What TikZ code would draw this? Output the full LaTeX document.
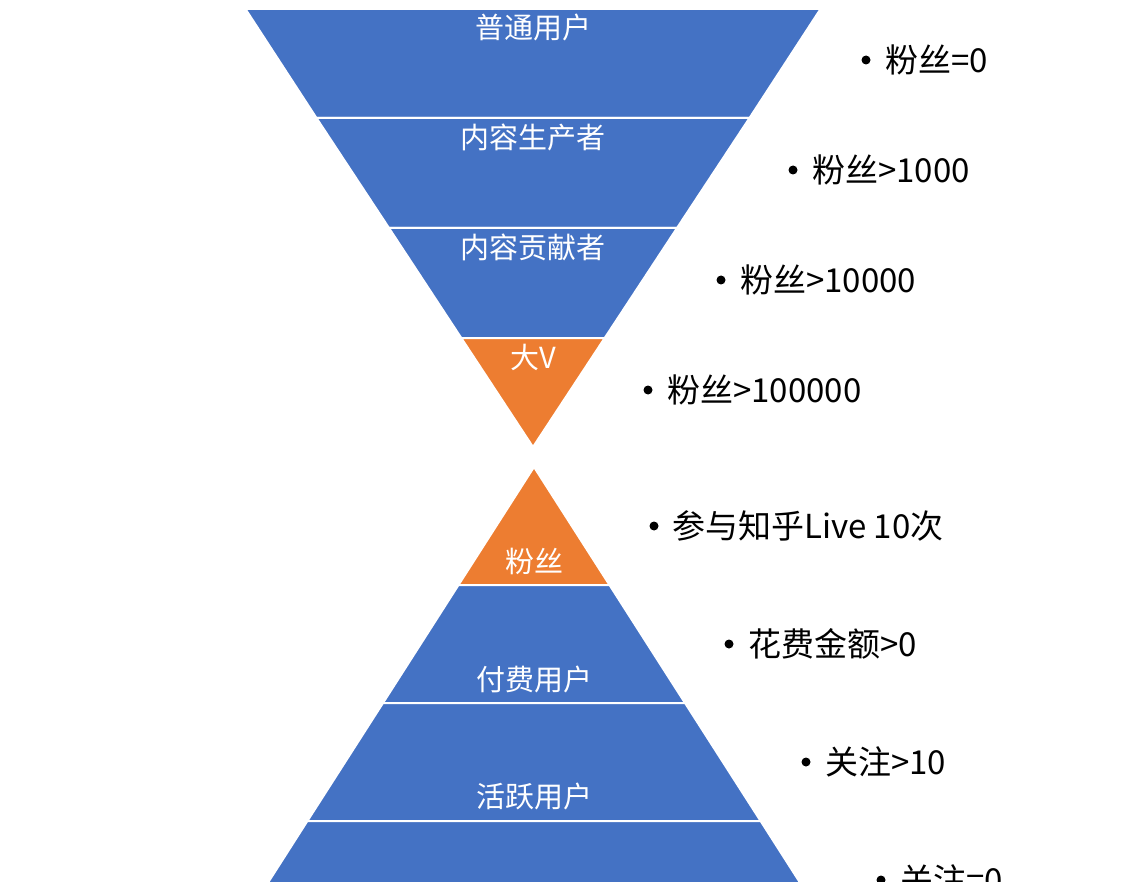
\documentclass[tikz,border=0pt]{standalone}
\usepackage{fontspec}
\setmainfont{Noto Sans CJK SC}
\definecolor{bandblue}{HTML}{4472C4}
\definecolor{bandorange}{HTML}{ED7D31}
\tikzset{
  band/.style={draw=white, line width=2pt, line join=miter},
  bandlabel/.style={text=white, font=\fontsize{29}{33}\selectfont, inner sep=0pt},
  crit/.style={text=black, font=\fontsize{33}{37}\selectfont, inner sep=0pt, anchor=west},
  dot/.style={circle, fill=black, minimum size=9pt, inner sep=0pt},
}
\begin{document}
\begin{tikzpicture}[x=1pt, y=-1pt]
\useasboundingbox (0,0) rectangle (1145,882);
\fill[white] (0,0) rectangle (1145,882);
\begin{scope}
\clip (0,0) rectangle (1145,882);
% top funnel
\filldraw[band, fill=bandblue] (245.5,9) -- (820.5,9) -- (749.5,118) -- (316.5,118) -- cycle;
\filldraw[band, fill=bandblue] (316.5,118) -- (749.5,118) -- (677,228) -- (389,228) -- cycle;
\filldraw[band, fill=bandblue] (389,228) -- (677,228) -- (604.7,338) -- (461.3,338) -- cycle;
\filldraw[band, fill=bandorange] (461.3,338) -- (604.7,338) -- (533,447) -- cycle;
% bottom pyramid
\filldraw[band, fill=bandorange] (534,467) -- (609.5,585) -- (458.5,585) -- cycle;
\filldraw[band, fill=bandblue] (458.5,585) -- (609.5,585) -- (685,703) -- (383,703) -- cycle;
\filldraw[band, fill=bandblue] (383,703) -- (685,703) -- (760.6,821) -- (307.4,821) -- cycle;
\filldraw[band, fill=bandblue] (307.4,821) -- (760.6,821) -- (836,939) -- (232,939) -- cycle;
\end{scope}
% band labels
\node[bandlabel] (l1) at (533,27) {普通用户};
\node[bandlabel] (l2) at (533,137) {内容生产者};
\node[bandlabel] (l3) at (533,247) {内容贡献者};
\node[bandlabel] (l4) at (533,357) {大V};
\node[bandlabel] (l5) at (534,561) {粉丝};
\node[bandlabel] (l6) at (534,679) {付费用户};
\node[bandlabel] (l7) at (534,796) {活跃用户};
% criteria
\node[dot] (d1) at (866,60) {};
\node[crit] (c1) at (885,60) {粉丝=0};
\node[dot] (d2) at (793,170) {};
\node[crit] (c2) at (812,170) {粉丝>1000};
\node[dot] (d3) at (721,280) {};
\node[crit] (c3) at (740,280) {粉丝>10000};
\node[dot] (d4) at (648,390) {};
\node[crit] (c4) at (667,390) {粉丝>100000};
\node[dot] (d5) at (654,526) {};
\node[crit] (c5) at (672,526) {参与知乎Live 10次};
\node[dot] (d6) at (729,644) {};
\node[crit] (c6) at (748,644) {花费金额>0};
\node[dot] (d7) at (806,762) {};
\node[crit] (c7) at (825,762) {关注>10};
\node[dot] (d8) at (881,880) {};
\node[crit] (c8) at (900,880) {关注=0};
\end{tikzpicture}
\end{document}
